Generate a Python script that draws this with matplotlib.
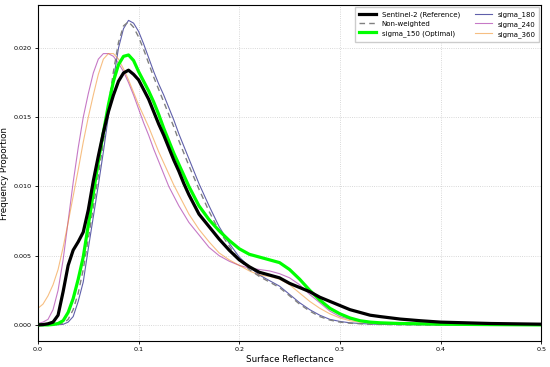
import matplotlib
matplotlib.use("Agg")
import matplotlib.pyplot as plt

x = [0.0, 0.005, 0.01, 0.015, 0.02, 0.025, 0.03, 0.035, 0.04, 0.045, 0.05, 0.055, 0.06, 0.065,
     0.07, 0.075, 0.08, 0.085, 0.09, 0.095, 0.10, 0.105, 0.11, 0.115, 0.12, 0.125, 0.13, 0.135,
     0.14, 0.145, 0.15, 0.16, 0.17, 0.18, 0.19, 0.20, 0.21, 0.22, 0.23, 0.24, 0.25, 0.26, 0.27,
     0.28, 0.29, 0.30, 0.31, 0.32, 0.33, 0.34, 0.36, 0.38, 0.40, 0.45, 0.50]

sentinel = [0.0, 0.00002, 0.00008, 0.0002, 0.0007, 0.0024, 0.0043, 0.0054, 0.0060, 0.0067, 0.0083,
            0.0104, 0.0122, 0.0139, 0.0154, 0.0166, 0.0176, 0.0182, 0.0184, 0.0181, 0.0177, 0.0170,
            0.0163, 0.0154, 0.0145, 0.0137, 0.0128, 0.0119, 0.0111, 0.0102, 0.0094, 0.0080, 0.0071,
            0.0062, 0.0054, 0.0047, 0.0042, 0.0038, 0.0036, 0.0034, 0.0030, 0.0027, 0.0024, 0.0020,
            0.0017, 0.0014, 0.0011, 0.0009, 0.0007, 0.0006, 0.00042, 0.0003, 0.0002, 0.0001, 0.00005]

nonweighted = [0.0, 0.0, 0.0, 0.00002, 0.00005, 0.0001, 0.0004, 0.0011, 0.0023, 0.0040, 0.0062,
               0.0085, 0.0108, 0.0132, 0.0158, 0.0183, 0.0204, 0.0216, 0.0219, 0.0215, 0.0208,
               0.0199, 0.0189, 0.0179, 0.0170, 0.0161, 0.0152, 0.0143, 0.0133, 0.0124, 0.0115,
               0.0098, 0.0082, 0.0068, 0.0057, 0.0047, 0.0040, 0.0035, 0.0031, 0.0027, 0.0021,
               0.0015, 0.0010, 0.0006, 0.00035, 0.0002, 0.00012, 0.00008, 0.00005, 0.00003,
               0.00001, 0.0, 0.0, 0.0, 0.0]

sigma_150 = [0.0, 0.0, 0.0, 0.00003, 0.0001, 0.0003, 0.0009, 0.0019, 0.0033, 0.0049, 0.0072,
             0.0095, 0.0118, 0.0139, 0.0159, 0.0176, 0.0188, 0.0194, 0.0195, 0.0191, 0.0183,
             0.0176, 0.0169, 0.0161, 0.0152, 0.0142, 0.0133, 0.0124, 0.0116, 0.0108, 0.0100,
             0.0086, 0.0076, 0.0068, 0.0061, 0.0055, 0.0051, 0.0049, 0.0047, 0.0045, 0.0040,
             0.0033, 0.0025, 0.0018, 0.0012, 0.0008, 0.0005, 0.0003, 0.0002, 0.00015, 0.0001,
             0.00008, 0.00005, 0.00002, 0.0]

sigma_180 = [0.0, 0.0, 0.0, 0.0, 0.00001, 0.00004, 0.0002, 0.0006, 0.0017, 0.0031, 0.0055,
             0.0078, 0.0101, 0.0125, 0.0151, 0.0177, 0.0200, 0.0214, 0.0220, 0.0218, 0.0212,
             0.0203, 0.0193, 0.0183, 0.0174, 0.0166, 0.0157, 0.0148, 0.0138, 0.0129, 0.0120,
             0.0102, 0.0086, 0.0071, 0.0059, 0.0049, 0.0042, 0.0036, 0.0032, 0.0028, 0.0022,
             0.0016, 0.0011, 0.0007, 0.0004, 0.00025, 0.00015, 0.0001, 0.00006, 0.00004,
             0.00002, 0.00001, 0.0, 0.0, 0.0]

sigma_240 = [0.0001, 0.0002, 0.0004, 0.0011, 0.0025, 0.0047, 0.0075, 0.0103, 0.0128, 0.0150,
             0.0167, 0.0182, 0.0192, 0.0196, 0.0196, 0.0194, 0.0189, 0.0183, 0.0175, 0.0166,
             0.0156, 0.0146, 0.0137, 0.0127, 0.0118, 0.0109, 0.0100, 0.0093, 0.0086, 0.0080,
             0.0074, 0.0065, 0.0056, 0.0050, 0.0046, 0.0043, 0.0041, 0.0040, 0.0039, 0.0037,
             0.0034, 0.0029, 0.0022, 0.0016, 0.0010, 0.0006, 0.0004, 0.0003, 0.0002, 0.00015,
             0.0001, 0.00005, 0.00003, 0.00001, 0.0]

sigma_360 = [0.0012, 0.0015, 0.0021, 0.0029, 0.0040, 0.0056, 0.0074, 0.0093, 0.0112, 0.0132,
             0.0150, 0.0166, 0.0181, 0.0192, 0.0196, 0.0196, 0.0192, 0.0185, 0.0177, 0.0168,
             0.0159, 0.0151, 0.0143, 0.0134, 0.0125, 0.0117, 0.0109, 0.0101, 0.0094, 0.0087,
             0.0080, 0.0069, 0.0060, 0.0052, 0.0047, 0.0043, 0.0039, 0.0036, 0.0035, 0.0033,
             0.0029, 0.0023, 0.0017, 0.0012, 0.0008, 0.0005, 0.0003, 0.0002, 0.00015, 0.0001,
             0.00005, 0.00003, 0.00002, 0.00001, 0.0]

fig = plt.figure(figsize=(5.5, 3.67), dpi=100)
ax = fig.add_axes([0.069, 0.071, 0.915, 0.915])

ax.plot(x, sentinel, color="black", lw=2.3, label="Sentinel-2 (Reference)", zorder=5,
        solid_joinstyle="round")
ax.plot(x, nonweighted, color="gray", lw=1.0, ls=(0, (4, 3)), label="Non-weighted", zorder=3)
ax.plot(x, sigma_150, color="#00ff00", lw=2.3, label="sigma_150 (Optimal)", zorder=4,
        solid_joinstyle="round")
ax.plot(x, sigma_180, color="#2a2a8e", lw=0.8, alpha=0.75, label="sigma_180", zorder=2)
ax.plot(x, sigma_240, color="#a020a0", lw=0.8, alpha=0.6, label="sigma_240", zorder=2)
ax.plot(x, sigma_360, color="#f08a1c", lw=0.8, alpha=0.55, label="sigma_360", zorder=2)

ax.set_xlim(0, 0.5)
ax.set_ylim(-0.00116, 0.0231)
ax.set_xticks([0.0, 0.1, 0.2, 0.3, 0.4, 0.5])
ax.set_yticks([0.0, 0.005, 0.01, 0.015, 0.02])
ax.set_yticklabels(["0.000", "0.005", "0.010", "0.015", "0.020"])
ax.tick_params(labelsize=4.6, length=2.5, width=0.6, pad=2)
ax.grid(True, ls=":", lw=0.6, color="#cccccc")
for s in ax.spines.values():
    s.set_linewidth(0.8)
ax.set_xlabel("Surface Reflectance", fontsize=6.3, labelpad=2)
ax.set_ylabel("Frequency Proportion", fontsize=6.3, labelpad=3)
ax.legend(ncol=2, fontsize=5.0, loc="upper right", frameon=True, handlelength=2.4,
          columnspacing=2.2, borderpad=0.6, labelspacing=0.45, framealpha=1,
          edgecolor="#cccccc", fancybox=False, borderaxespad=0.25)

fig.savefig("out.png", dpi=100)
